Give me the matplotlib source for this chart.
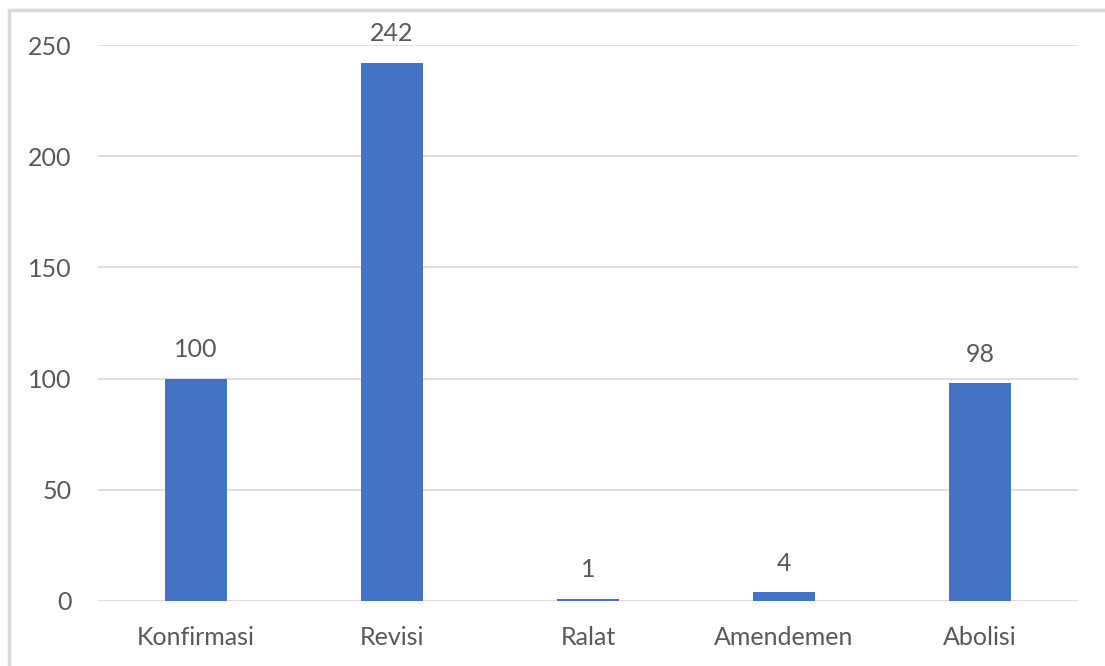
import matplotlib
matplotlib.use("Agg")
import matplotlib.pyplot as plt
from matplotlib.patches import Rectangle

categories = ["Konfirmasi", "Revisi", "Ralat", "Amendemen", "Abolisi"]
values = [100, 242, 1, 4, 98]
y_ticks = [0, 50, 100, 150, 200, 250]

BAR_COLOR = "#4472C4"
GRID_COLOR = "#D9D9D9"
TEXT_COLOR = "#595959"

plt.rcParams["font.family"] = ["Lato", "DejaVu Sans"]

W, H = 1105, 666
fig = plt.figure(figsize=(W / 100, H / 100), dpi=100)
ax = fig.add_axes([98 / W, 1 - 601 / H, 980 / W, 556 / H])

x = list(range(len(categories)))
bars = ax.bar(x, values, width=0.316, color=BAR_COLOR, zorder=3)

for b, v in zip(bars, values):
    ax.annotate(str(v), (b.get_x() + b.get_width() / 2, v),
                xytext=(0, 12.5), textcoords="offset points",
                ha="center", va="bottom", fontsize=18, color=TEXT_COLOR)

ax.set_xlim(-0.5, len(categories) - 0.5)
ax.set_ylim(0, 250)
ax.set_yticks(y_ticks)
ax.set_xticks(x)
ax.set_xticklabels(categories)
ax.tick_params(axis="both", length=0, labelsize=18, labelcolor=TEXT_COLOR)
ax.tick_params(axis="x", pad=18)
ax.tick_params(axis="y", pad=19)

ax.yaxis.grid(True, color=GRID_COLOR, linewidth=1.2, zorder=0)
for s in ax.spines.values():
    s.set_visible(False)

# outer chart border (only left and top visible in the crop)
fig.patches.append(Rectangle((9 / W, -0.05), 1.1, 1 - 10 / H + 0.05,
                             transform=fig.transFigure, fill=False,
                             edgecolor=GRID_COLOR, linewidth=2.5))

fig.savefig("out.png", dpi=100)
